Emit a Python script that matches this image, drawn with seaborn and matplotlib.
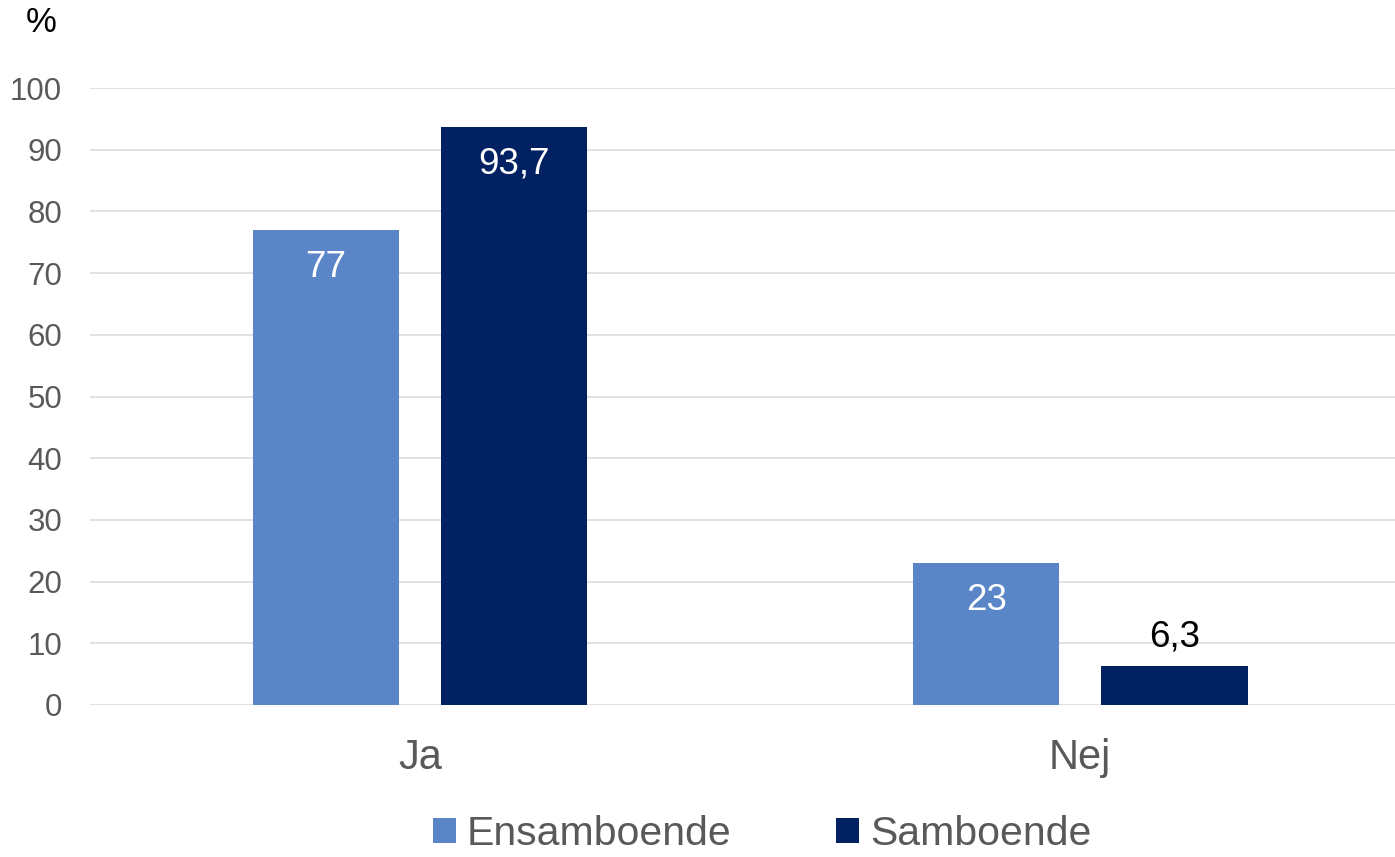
# Grouped bar chart: Ja / Nej by household type

import pandas as pd

import matplotlib
matplotlib.use("Agg")
import matplotlib.pyplot as plt

import seaborn as sns

# Data

categories = ["Ja", "Nej"]
groups = ["Ensamboende", "Samboende"]
ensamboende = [77, 23]
samboende = [93.7, 6.3]
y_ticks = [0, 10, 20, 30, 40, 50, 60, 70, 80, 90, 100]

colors = ["#5A86C8", "#022162"]

df = pd.DataFrame({
    "svar": categories * 2,
    "grupp": [groups[0]] * len(categories) + [groups[1]] * len(categories),
    "procent": ensamboende + samboende,
})

sns.set_theme(style="white")
plt.rcParams["font.family"] = ["Liberation Sans", "DejaVu Sans"]

fig = plt.figure(figsize=(13.95, 8.57), dpi=100)
ax = fig.add_axes([90 / 1395, 1 - 705 / 857, 1305 / 1395, (705 - 88) / 857])

sns.barplot(
    data=df,
    x="svar",
    y="procent",
    hue="grupp",
    hue_order=groups,
    order=categories,
    palette=colors,
    saturation=1,
    width=0.57,
    gap=0.22,
    linewidth=0,
    ax=ax,
)

ax.set_xlim(-0.5, 1.477)
ax.set_ylim(0, 100)
ax.set_yticks(y_ticks)
ax.set_xlabel("")
ax.set_ylabel("")

ax.grid(axis="y", color="#D9D9D9", linewidth=1.1)
ax.set_axisbelow(True)
for side in ["top", "right", "left", "bottom"]:
    ax.spines[side].set_visible(False)

ax.tick_params(axis="y", labelsize=22.5, labelcolor="#595959", length=0, pad=20)
ax.tick_params(axis="x", labelsize=30, labelcolor="#595959", length=0, pad=24)

# Value labels
for container in ax.containers:
    for bar in container:
        h = bar.get_height()
        txt = f"{h:g}".replace(".", ",")
        xc = bar.get_x() + bar.get_width() / 2
        if h > 15:
            ax.annotate(txt, (xc, h), xytext=(0, -27), textcoords="offset points",
                        ha="center", va="center", fontsize=26.5, color="white")
        else:
            ax.annotate(txt, (xc, h), xytext=(0, 21), textcoords="offset points",
                        ha="center", va="center", fontsize=26.5, color="black")

# Unit label
fig.text(41 / 1395, 1 - 23 / 857, "%", fontsize=25, color="black",
         ha="center", va="center")

# Legend at the bottom
handles, labels = ax.get_legend_handles_labels()
ax.get_legend().remove()
fig.legend(
    handles, labels,
    loc="center",
    bbox_to_anchor=(762 / 1395, 1 - 834 / 857),
    ncol=2,
    frameon=False,
    fontsize=29.5,
    labelcolor="#595959",
    handlelength=0.56,
    handleheight=0.56,
    handletextpad=0.27,
    columnspacing=2.55,
    borderpad=0,
)

plt.savefig("out.png", dpi=100)
plt.close()
